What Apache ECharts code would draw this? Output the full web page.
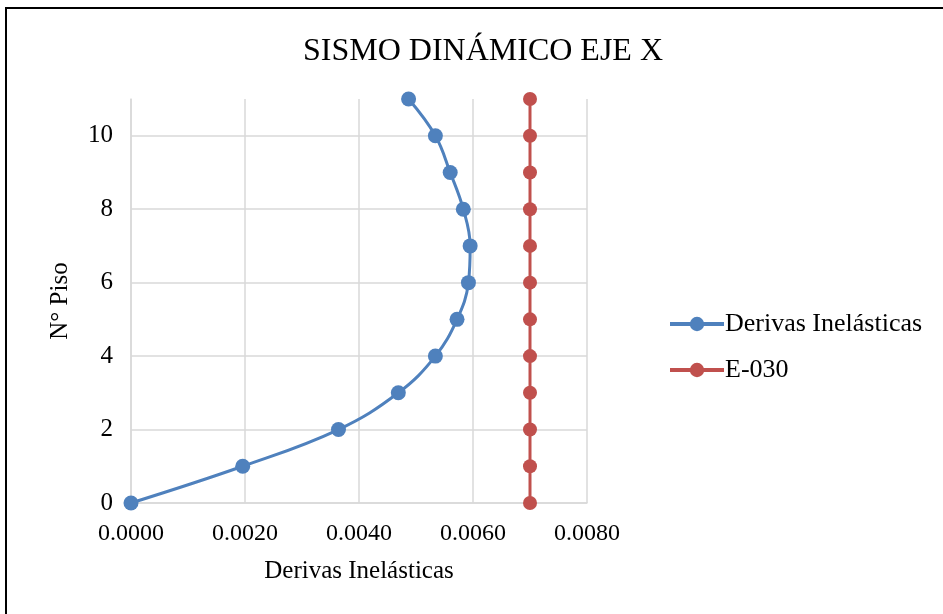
<!DOCTYPE html>
<html>
<head>
<meta charset="utf-8">
<script src="https://cdn.jsdelivr.net/npm/echarts@6/dist/echarts.min.js"></script>
<style>
  html, body { margin: 0; padding: 0; background: #fff; }
  #chart { width: 943px; height: 614px; }
</style>
</head>
<body>
<div id="chart"></div>
<script>
// pisos (eje Y) y derivas (eje X)
const pisos = [0, 1, 2, 3, 4, 5, 6, 7, 8, 9, 10, 11];
const derivasInelasticas = [0, 0.00196, 0.00364, 0.00469, 0.00534, 0.00572, 0.00592, 0.00595, 0.00583, 0.0056, 0.00534, 0.00487];
const limiteE030 = [0.007, 0.007, 0.007, 0.007, 0.007, 0.007, 0.007, 0.007, 0.007, 0.007, 0.007, 0.007];
const xTicks = [0, 0.002, 0.004, 0.006, 0.008];

const font = 'Liberation Serif, Times New Roman, serif';
const gridColor = '#d9d9d9';

const chart = echarts.init(document.getElementById('chart'));

const option = {
  backgroundColor: '#fff',
  animation: false,
  title: {
    text: 'SISMO DINÁMICO EJE X',
    left: 478,
    top: 31,
    textAlign: 'center',
    textStyle: { fontFamily: font, fontSize: 32, fontWeight: 'normal', color: '#000' }
  },
  legend: {
    orient: 'vertical',
    left: 663,
    top: 306,
    itemWidth: 54,
    itemHeight: 18,
    itemGap: 20,
    lineStyle: { width: 4 },
    textStyle: { fontFamily: font, fontSize: 26, color: '#000', padding: [0, 0, 0, -4] },
    data: ['Derivas Inelásticas', 'E-030']
  },
  graphic: [{
    type: 'rect',
    shape: { x: 6, y: 8, width: 1200, height: 1200 },
    style: { fill: 'none', stroke: '#000', lineWidth: 2 },
    silent: true
  }],
  grid: { left: 131, right: 356, top: 99, bottom: 111 },
  xAxis: {
    type: 'value',
    min: xTicks[0],
    max: xTicks[xTicks.length - 1],
    interval: 0.002,
    name: 'Derivas Inelásticas',
    nameLocation: 'middle',
    nameGap: 56,
    nameTextStyle: { fontFamily: font, fontSize: 25, color: '#000' },
    axisLine: { show: true, lineStyle: { color: gridColor, width: 1.5 } },
    axisTick: { show: false },
    axisLabel: {
      margin: 19,
      fontFamily: font, fontSize: 24, color: '#000',
      formatter: v => v.toFixed(4)
    },
    splitLine: { show: true, lineStyle: { color: gridColor, width: 1.5 } }
  },
  yAxis: {
    type: 'value',
    min: 0,
    max: 11,
    interval: 2,
    name: 'N° Piso',
    nameLocation: 'middle',
    nameGap: 58,
    nameTextStyle: { fontFamily: font, fontSize: 25, color: '#000' },
    axisLine: { show: true, lineStyle: { color: gridColor, width: 1.5 } },
    axisTick: { show: false },
    axisLabel: {
      margin: 18,
      fontFamily: font, fontSize: 25, color: '#000',
      showMaxLabel: false
    },
    splitLine: {
      show: true,
      lineStyle: {
        color: [gridColor, gridColor, gridColor, gridColor, gridColor, gridColor, 'rgba(0,0,0,0)'],
        width: 1.5
      }
    }
  },
  series: [
    {
      name: 'Derivas Inelásticas',
      type: 'line',
      smooth: 0.4,
      symbol: 'circle',
      symbolSize: 15,
      color: '#4f81bd',
      lineStyle: { width: 3, color: '#4f81bd' },
      itemStyle: { color: '#4f81bd' },
      data: pisos.map((p, i) => [derivasInelasticas[i], p])
    },
    {
      name: 'E-030',
      type: 'line',
      symbol: 'circle',
      symbolSize: 14,
      color: '#c0504d',
      lineStyle: { width: 3, color: '#c0504d' },
      itemStyle: { color: '#c0504d' },
      data: pisos.map((p, i) => [limiteE030[i], p])
    }
  ]
};

chart.setOption(option);
</script>
</body>
</html>
